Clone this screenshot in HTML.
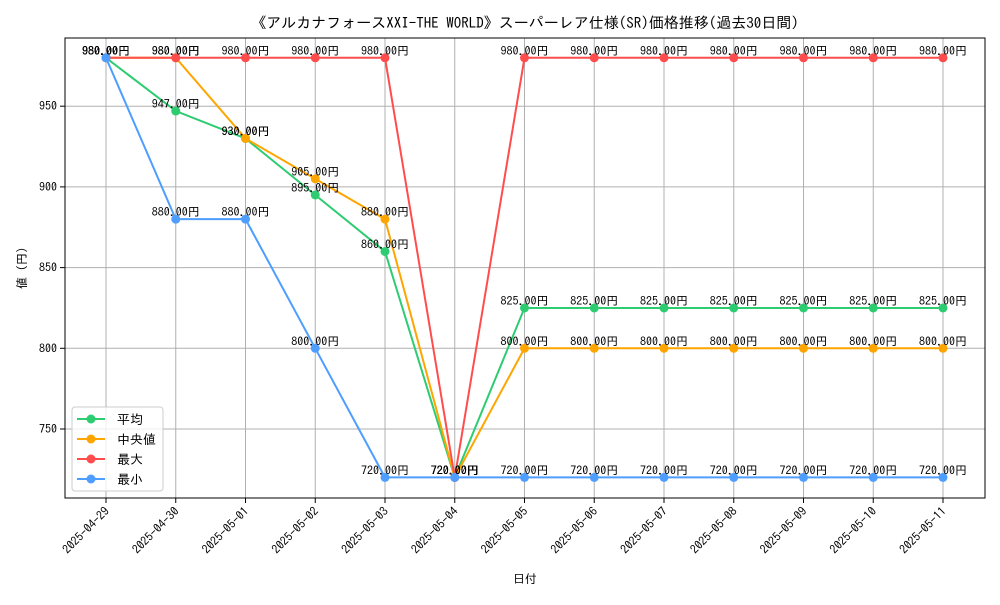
<!DOCTYPE html>
<html><head><meta charset="utf-8"><style>
body{margin:0;background:#fff}
text{font-family:"IPAGothic","Liberation Sans","Noto Sans CJK JP",sans-serif}
</style></head><body>
<svg id="c" width="1000" height="600"></svg>
<script>
const categories=["2025-04-29","2025-04-30","2025-05-01","2025-05-02","2025-05-03","2025-05-04","2025-05-05","2025-05-06","2025-05-07","2025-05-08","2025-05-09","2025-05-10","2025-05-11"];
const avgValues=[980,947,930,895,860,720,825,825,825,825,825,825,825];
const medianValues=[980,980,930,905,880,720,800,800,800,800,800,800,800];
const maxValues=[980,980,980,980,980,720,980,980,980,980,980,980,980];
const minValues=[980,880,880,800,720,720,720,720,720,720,720,720,720];
const yTicks=[750,800,850,900,950];
const seriesNames=["平均","中央値","最大","最小"];
const colors=["#2ecc71","#ffa500","#ff4d4d","#4d9eff"];
const svg=document.getElementById('c');const NS="http://www.w3.org/2000/svg";
function el(t,a,p){const e=document.createElementNS(NS,t);for(const k in a)e.setAttribute(k,a[k]);(p||svg).appendChild(e);return e;}
const L=65,R=985,T=38,B=498;
const x=i=>106+i*(943-106)/(categories.length-1);
const y=v=>429-(v-750)*(80.7/50);
let g=el('g',{});
categories.forEach((c,i)=>{el('line',{x1:x(i),x2:x(i),y1:T,y2:B,stroke:'#b0b0b0','stroke-width':1},g);
el('line',{x1:x(i),x2:x(i),y1:B,y2:B+5,stroke:'#000'},g);
const t=el('text',{x:x(i)+4,y:B+14,'font-size':12,'text-anchor':'end',transform:`rotate(-45 ${x(i)+4} ${B+14})`});t.textContent=c;
});
yTicks.forEach(v=>{el('line',{x1:L,x2:R,y1:y(v),y2:y(v),stroke:'#b0b0b0'},g);el('line',{x1:L-5,x2:L,y1:y(v),y2:y(v),stroke:'#000'},g);
const t=el('text',{x:L-8,y:y(v)+4,'font-size':12,'text-anchor':'end'});t.textContent=v;
});
const fr=el('rect',{x:L,y:T,width:R-L,height:B-T,fill:'none',stroke:'#000'});

const all=[avgValues,medianValues,maxValues,minValues];
all.forEach((s,k)=>{const sg=el('g',{});
el('polyline',{points:s.map((v,i)=>x(i)+','+y(v)).join(' '),fill:'none',stroke:colors[k],'stroke-width':2},sg);
s.forEach((v,i)=>{const c=el('circle',{cx:x(i),cy:y(v),r:4.5,fill:colors[k]},sg);});});
all.forEach((s,k)=>s.forEach((v,i)=>{const t=el('text',{x:x(i),y:y(v)-3,'font-size':12,'text-anchor':'middle'});t.textContent=v.toFixed(2)+'円';
}));
let t=el('text',{x:525,y:28,'font-size':15,'text-anchor':'middle'});t.textContent='《アルカナフォースXXI-THE WORLD》スーパーレア仕様(SR)価格推移(過去30日間)';

t=el('text',{x:525,y:583,'font-size':12,'text-anchor':'middle'});t.textContent='日付';

t=el('text',{x:26,y:268,'font-size':12,'text-anchor':'middle',transform:'rotate(-90 26 268)'});t.textContent='値 (円)';

const lg=el('g',{});
el('rect',{x:72,y:407,width:91,height:84,rx:3,fill:'#fff','fill-opacity':0.8,stroke:'#ccc'},lg);
seriesNames.forEach((n,k)=>{const yy=419+k*20;el('line',{x1:77,x2:105,y1:yy,y2:yy,stroke:colors[k],'stroke-width':2},lg);
el('circle',{cx:91,cy:yy,r:4.5,fill:colors[k]},lg);const tt=el('text',{x:117,y:yy+5,'font-size':13},lg);tt.textContent=n;
});
</script></body></html>
